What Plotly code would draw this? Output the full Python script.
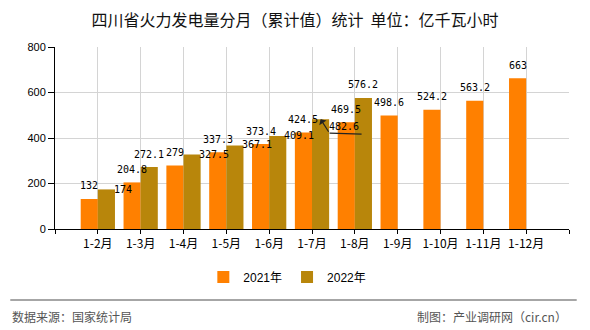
import plotly.graph_objects as go

categories = ["1-2月", "1-3月", "1-4月", "1-5月", "1-6月", "1-7月", "1-8月",
              "1-9月", "1-10月", "1-11月", "1-12月"]
values_2021 = [132, 204.8, 279, 337.3, 373.4, 424.5, 469.5, 498.6, 524.2, 563.2, 663]
values_2022 = [174, 272.1, 327.5, 367.1, 409.1, 482.6, 576.2]
series_names = ["2021年", "2022年"]
colors = ["#FF8000", "#B8860B"]
y_ticks = [0, 200, 400, 600, 800]

# label pixel offsets (dx right, dy down) relative to the default "above bar" spot
label_offsets_2022 = {0: (17, 13), 2: (22, 13), 3: (22, 12), 4: (21, 13), 5: (23, 20)}

x_idx = list(range(len(categories)))
fig = go.Figure()
fig.add_trace(go.Bar(x=x_idx, y=values_2021, name=series_names[0],
                     marker=dict(color=colors[0], line=dict(width=0))))
fig.add_trace(go.Bar(x=x_idx[:len(values_2022)], y=values_2022, name=series_names[1],
                     marker=dict(color=colors[1], line=dict(width=0))))

annos = []
lab_font = dict(family="DejaVu Sans Mono", size=10, color="#000")
for i, v in enumerate(values_2021):
    annos.append(dict(x=i - 0.2, y=v, xref="x", yref="y", text=f"{v:g}",
                      showarrow=False, yanchor="middle", xanchor="center",
                      yshift=13, font=lab_font))
for i, v in enumerate(values_2022):
    dx, dy = label_offsets_2022.get(i, (0, 0))
    annos.append(dict(x=i + 0.2, y=v, xref="x", yref="y", text=f"{v:g}",
                      showarrow=False, yanchor="middle", xanchor="center",
                      xshift=dx, yshift=13 - dy, font=lab_font))

# leader arrow for 482.6
annos.append(dict(x=5 + 0.2, y=values_2022[5], xref="x", yref="y", text="",
                  showarrow=True, ax=9, ay=14, arrowhead=1, arrowsize=1.2,
                  arrowwidth=1.2, arrowcolor="#222", standoff=0))

# footer
foot_font = dict(family="Noto Sans CJK SC", size=12, color="#555")
annos.append(dict(x=-0.087, y=-0.48, xref="paper", yref="paper", text="数据来源：国家统计局",
                  showarrow=False, xanchor="left", yanchor="middle", font=foot_font))
annos.append(dict(x=1.0, y=-0.48, xref="paper", yref="paper", text="制图：产业调研网（cir.cn）",
                  showarrow=False, xanchor="right", yanchor="middle", font=foot_font))

shapes = [
    dict(type="line", xref="paper", yref="paper", x0=-0.087, x1=1.015, y0=-0.39, y1=-0.39,
         line=dict(color="#888", width=1.5)),
    dict(type="line", xref="x", yref="y", xsizemode="pixel", ysizemode="pixel",
         xanchor=5 + 0.2, yanchor=values_2022[5], x0=9, x1=41, y0=-14, y1=-15,
         line=dict(color="#222", width=1.2)),
]

fig.update_layout(
    width=590, height=330,
    margin=dict(l=55, r=21, t=47, b=101),
    paper_bgcolor="white", plot_bgcolor="white",
    barmode="group", bargap=0.2, bargroupgap=0,
    title=dict(text="四川省火力发电量分月（累计值）统计  单位：亿千瓦小时",
               x=0.5, xref="container", y=1 - 20 / 330, yref="container",
               xanchor="center", yanchor="middle",
               font=dict(family="Noto Sans CJK SC", size=16, color="#111")),
    xaxis=dict(range=[-1, 11], tickmode="array", tickvals=list(range(-1, 12)),
               ticktext=[""] + categories + [""],
               showgrid=True, gridcolor="#d4d4d4", gridwidth=1,
               showline=True, linecolor="#000", linewidth=1,
               ticks="outside", ticklen=4, tickcolor="#000",
               tickfont=dict(family="Noto Sans CJK SC", size=12, color="#000"),
               zeroline=False),
    yaxis=dict(range=[0, 800], tickvals=y_ticks,
               showgrid=True, gridcolor="#d4d4d4", gridwidth=1,
               showline=True, linecolor="#000", linewidth=1,
               ticks="outside", ticklen=6, tickcolor="#000",
               tickfont=dict(family="Liberation Sans", size=11, color="#000"),
               zeroline=False),
    legend=dict(orientation="h", xref="container", yref="container",
                x=0.487, y=1 - 277 / 330, xanchor="center", yanchor="middle",
                font=dict(family="Liberation Sans, Noto Sans CJK SC", size=12, color="#000"),
                itemwidth=30, traceorder="normal"),
    annotations=annos, shapes=shapes,
    showlegend=True,
)

fig.write_html("out.html")
